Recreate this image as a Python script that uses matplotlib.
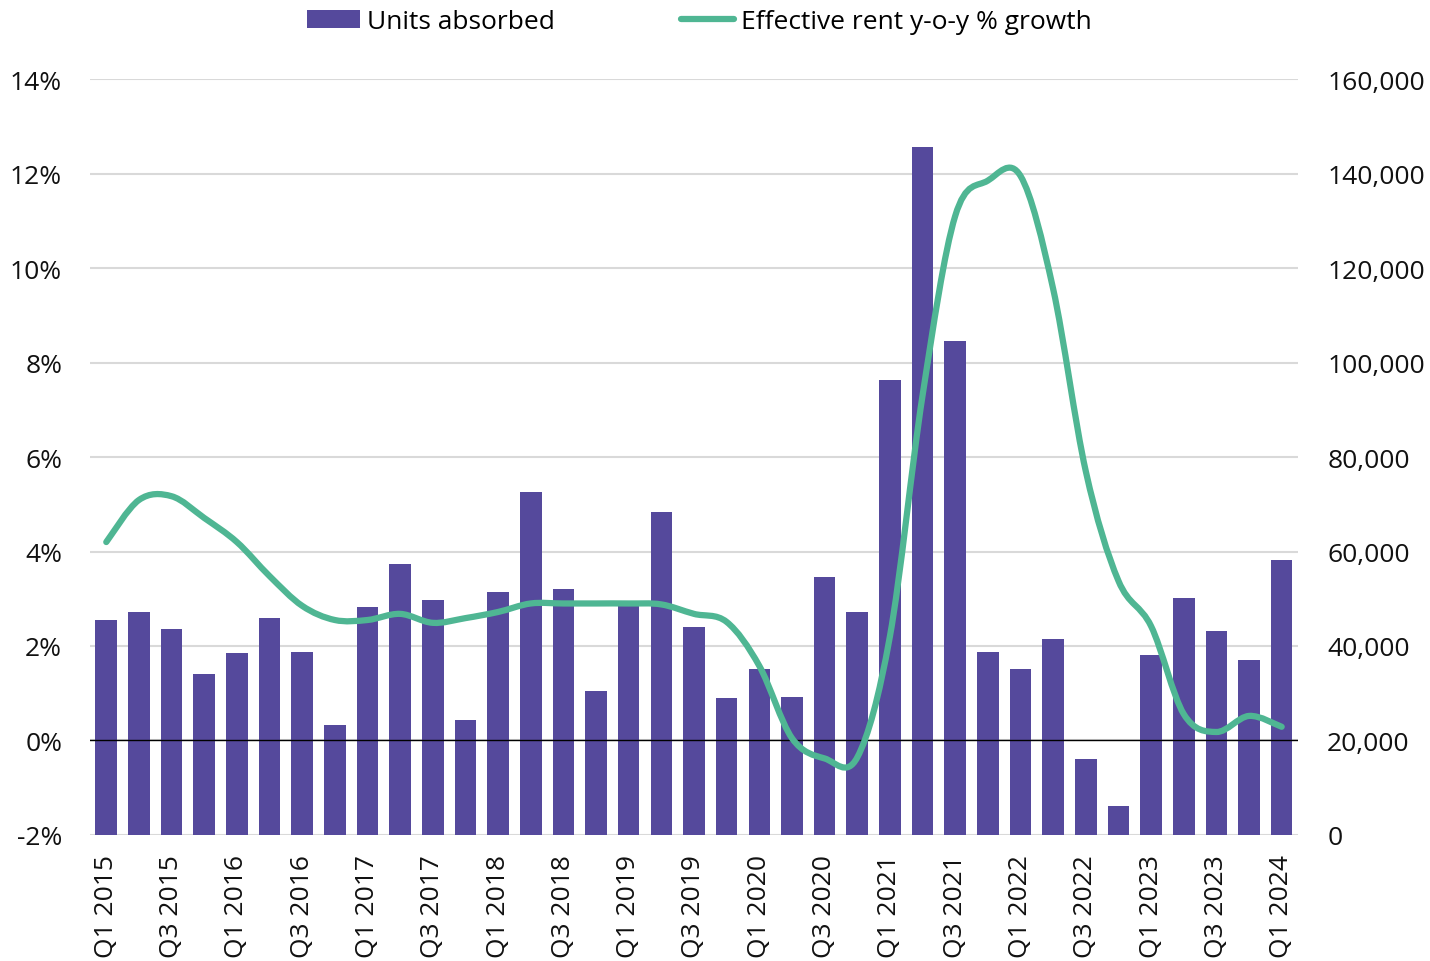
import matplotlib
matplotlib.use("Agg")
import matplotlib.pyplot as plt
import numpy as np
from matplotlib.path import Path
from matplotlib.patches import PathPatch, Patch
from matplotlib.lines import Line2D
from matplotlib.ticker import FuncFormatter, MultipleLocator

plt.rcParams['font.family'] = ['Open Sans', 'DejaVu Sans']

# quarters Q1 2015 .. Q1 2024
quarters = []
for yr in range(2015, 2025):
    for q in range(1, 5):
        quarters.append("Q%d %d" % (q, yr))
quarters = quarters[:37]

units_absorbed = [45500, 47300, 43700, 34100, 38500, 45900, 38700, 23200,
                  48300, 57400, 49700, 24300, 51400, 72500, 52100, 30500,
                  48900, 68400, 44000, 28900, 35100, 29200, 54700, 47300,
                  96400, 145700, 104600, 38700, 35100, 41500, 16100, 6100,
                  38100, 50100, 43200, 37000, 58300]

rent_growth = [4.20, 5.09, 5.17, 4.71, 4.20, 3.48, 2.85, 2.55,
               2.55, 2.68, 2.49, 2.59, 2.72, 2.90, 2.90, 2.90,
               2.90, 2.88, 2.68, 2.51, 1.58, 0.05, -0.38, -0.36,
               2.20, 7.30, 11.10, 11.85, 11.95, 9.56, 5.70, 3.38,
               2.42, 0.56, 0.18, 0.52, 0.29]

bar_color = '#55499c'
line_color = '#4fb693'
grid_color = '#d9d9d9'
fs = 19

fig = plt.figure(figsize=(14.3, 9.62), dpi=100)
ax = fig.add_axes([0.0629, 0.131, 0.8448, 0.7858])
ax2 = ax.twinx()

x = np.arange(len(quarters))

# bars on the right axis, with the grid behind them
ax2.bar(x, units_absorbed, width=0.66, color=bar_color, zorder=2)
ax2.set_ylim(0, 160000)
ax2.yaxis.set_major_locator(MultipleLocator(20000))
ax2.yaxis.set_major_formatter(FuncFormatter(lambda v, p: "{:,.0f}".format(v)))
ax2.grid(axis='y', color=grid_color, linewidth=1.5, zorder=0)
ax2.set_axisbelow(True)

# smoothed line (bezier through each point, like a spreadsheet "smooth line")
pts = np.column_stack([x, rent_growth]).astype(float)
verts = [tuple(pts[0])]
codes = [Path.MOVETO]
n = len(pts)
for i in range(n - 1):
    p0 = pts[i - 1] if i > 0 else pts[i]
    p1 = pts[i]
    p2 = pts[i + 1]
    p3 = pts[i + 2] if i + 2 < n else pts[i + 1]
    c1 = p1 + (p2 - p0) / 6.0
    c2 = p2 - (p3 - p1) / 6.0
    verts += [tuple(c1), tuple(c2), tuple(p2)]
    codes += [Path.CURVE4, Path.CURVE4, Path.CURVE4]
curve = PathPatch(Path(verts, codes), fill=False, edgecolor=line_color,
                  linewidth=4.5, capstyle='round', joinstyle='round', zorder=3)
ax.add_patch(curve)
ax.axhline(0, color='black', linewidth=1.0, zorder=2)

ax.set_ylim(-2, 14)
ax.yaxis.set_major_locator(MultipleLocator(2))
ax.yaxis.set_major_formatter(FuncFormatter(lambda v, p: "%d%%" % v))
ax.set_xlim(-0.5, len(quarters) - 0.5)
ax.set_xticks(x[::2])
ax.set_xticklabels(quarters[::2], rotation=90, fontsize=fs)

ax.set_zorder(ax2.get_zorder() + 1)
ax.patch.set_visible(False)

for a in (ax, ax2):
    for s in a.spines.values():
        s.set_visible(False)
    a.tick_params(length=0, labelsize=fs, colors='#111111')
ax.tick_params(axis='y', pad=20)
ax.tick_params(axis='x', pad=14)
ax2.tick_params(axis='y', pad=21)

handles = [Patch(facecolor=bar_color, edgecolor='none'),
           Line2D([0], [0], color=line_color, linewidth=4.5, solid_capstyle='round')]
fig.legend(handles, ['Units absorbed', 'Effective rent y-o-y % growth'],
           loc='upper center', bbox_to_anchor=(0.489, 1.014), ncol=2, frameon=False,
           fontsize=fs, handlelength=2.0, handletextpad=0.25, columnspacing=4.8)

fig.savefig('out.png', dpi=100)
